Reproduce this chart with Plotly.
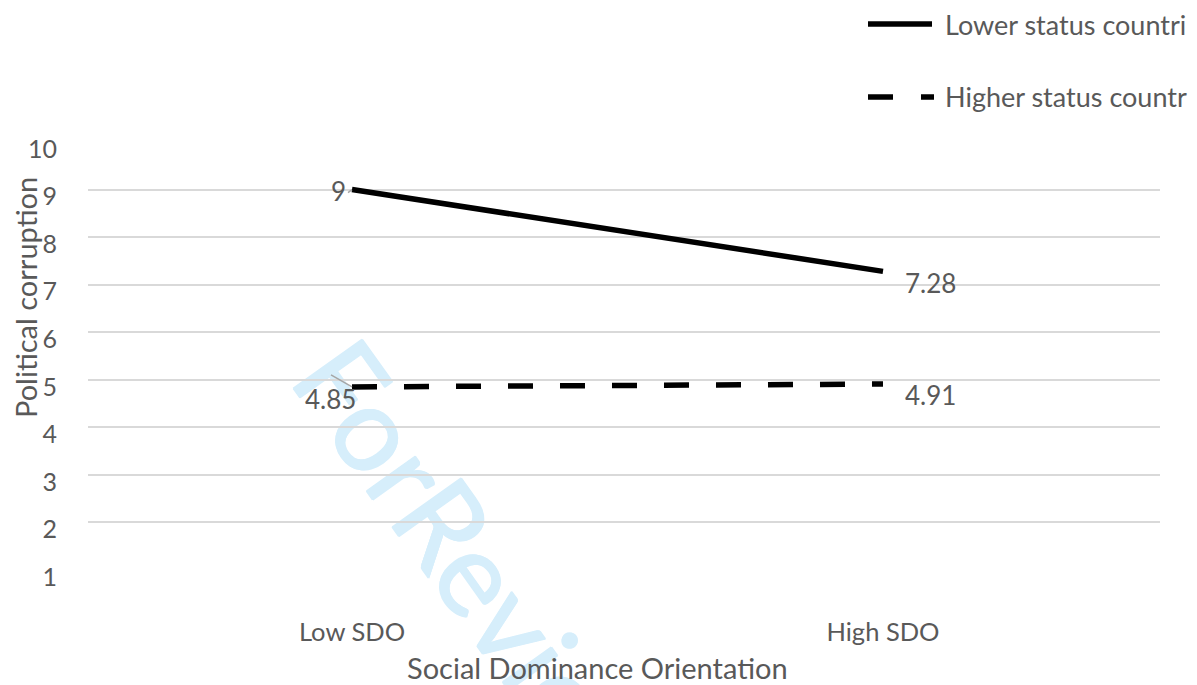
import plotly.graph_objects as go

# Data
categories = ["Low SDO", "High SDO"]
lower_status = [9.00, 7.28]
higher_status = [4.85, 4.91]
series_names = ["Lower status countri", "Higher status countr"]
y_ticks = [1, 2, 3, 4, 5, 6, 7, 8, 9, 10]

FONT = "Lato"
TXT = "#595959"

W, H = 1197, 685
L, R, T, B = 88, 37, 142, 115
PW, PH = W - L - R, H - T - B


def px(x):
    return (x - L) / PW


def py(y):
    return (H - B - y) / PH


xpos = [0, 1]

fig = go.Figure()
fig.add_trace(go.Scatter(x=xpos, y=lower_status, mode="lines",
                         line=dict(color="black", width=5.5),
                         name=series_names[0], showlegend=False))
fig.add_trace(go.Scatter(x=xpos, y=higher_status, mode="lines",
                         line=dict(color="black", width=5.5, dash="25px,27px"),
                         name=series_names[1], showlegend=False))

# value labels
lab_font = dict(family=FONT, size=26, color=TXT)
fig.add_annotation(x=xpos[0], y=lower_status[0], text=f"{lower_status[0]:g}",
                   showarrow=False, xanchor="right", xshift=-4, yshift=-1, font=lab_font)
fig.add_annotation(x=xpos[1], y=lower_status[1], text=f"{lower_status[1]:g}",
                   showarrow=False, xanchor="left", xshift=20, yshift=-12, font=lab_font)
fig.add_annotation(x=xpos[0], y=higher_status[0], text=f"{higher_status[0]:g}",
                   showarrow=False, xanchor="center", xshift=-22, yshift=-12, font=lab_font)
fig.add_annotation(x=xpos[1], y=higher_status[1], text=f"{higher_status[1]:g}",
                   showarrow=False, xanchor="left", xshift=20, yshift=-11, font=lab_font)

# leader lines from labels to points
fig.add_shape(type="line", xref="x", yref="y", xsizemode="pixel", ysizemode="pixel",
              xanchor=xpos[0], yanchor=higher_status[0], x0=-21, y0=12, x1=0, y1=0,
              line=dict(color="#a6a6a6", width=1.5))
fig.add_shape(type="line", xref="x", yref="y", xsizemode="pixel", ysizemode="pixel",
              xanchor=xpos[0], yanchor=lower_status[0], x0=-4, y0=-3, x1=0, y1=0,
              line=dict(color="#a6a6a6", width=1.5))

# watermark behind the grid
WM = "#d6eefb"
cx, cy = 484, 574
fig.add_shape(type="rect", xref="paper", yref="paper", layer="below",
              x0=px(cx - 1), x1=px(cx + 1), y0=py(cy + 1), y1=py(cy - 1),
              line=dict(width=0), fillcolor="rgba(0,0,0,0)",
              label=dict(text="ForReview", textangle=54.5, textposition="middle center",
                         font=dict(family="Lato", size=118, color=WM,
                                   shadow=f"0.8px 0 0 {WM}, -0.8px 0 0 {WM}, "
                                          f"0 0.8px 0 {WM}, 0 -0.8px 0 {WM}")))

# legend drawn by hand
fig.add_shape(type="line", xref="paper", yref="paper",
              x0=px(868), x1=px(932), y0=py(24), y1=py(24),
              line=dict(color="black", width=5.5))
fig.add_shape(type="line", xref="paper", yref="paper",
              x0=px(868), x1=px(934), y0=py(97), y1=py(97),
              line=dict(color="black", width=5.5, dash="25px,28px"))
for txt, yy in zip(series_names, [24, 97]):
    fig.add_annotation(x=px(943), y=py(yy), xref="paper", yref="paper", text=txt,
                       showarrow=False, xanchor="left", yanchor="middle",
                       font=dict(family=FONT, size=27, color=TXT))

# axis titles
fig.add_annotation(x=px(597), y=py(667), xref="paper", yref="paper",
                   text="Social Dominance Orientation", showarrow=False,
                   xanchor="center", yanchor="middle",
                   font=dict(family=FONT, size=29, color=TXT))
fig.add_annotation(x=px(25), y=py(298), xref="paper", yref="paper",
                   text="Political corruption", showarrow=False, textangle=-90,
                   xanchor="center", yanchor="middle",
                   font=dict(family=FONT, size=29, color=TXT))

x_lo = (L - 352) / 531
x_hi = (W - R - 352) / 531

fig.update_layout(
    width=W, height=H,
    margin=dict(l=L, r=R, t=T, b=B),
    paper_bgcolor="white", plot_bgcolor="white",
    showlegend=False,
    xaxis=dict(range=[x_lo, x_hi], tickvals=xpos, ticktext=categories,
               showgrid=False, zeroline=False, showline=False, ticks="",
               ticklabelstandoff=44,
               tickfont=dict(family=FONT, size=25.5, color=TXT)),
    yaxis=dict(range=[1, 10], tickvals=y_ticks, showgrid=True,
               gridcolor="#d9d9d9", gridwidth=2, zeroline=False, showline=False,
               ticks="", ticklabelstandoff=30, ticklabelshift=7,
               tickfont=dict(family=FONT, size=25, color=TXT)),
)

fig.write_html("out.html")
